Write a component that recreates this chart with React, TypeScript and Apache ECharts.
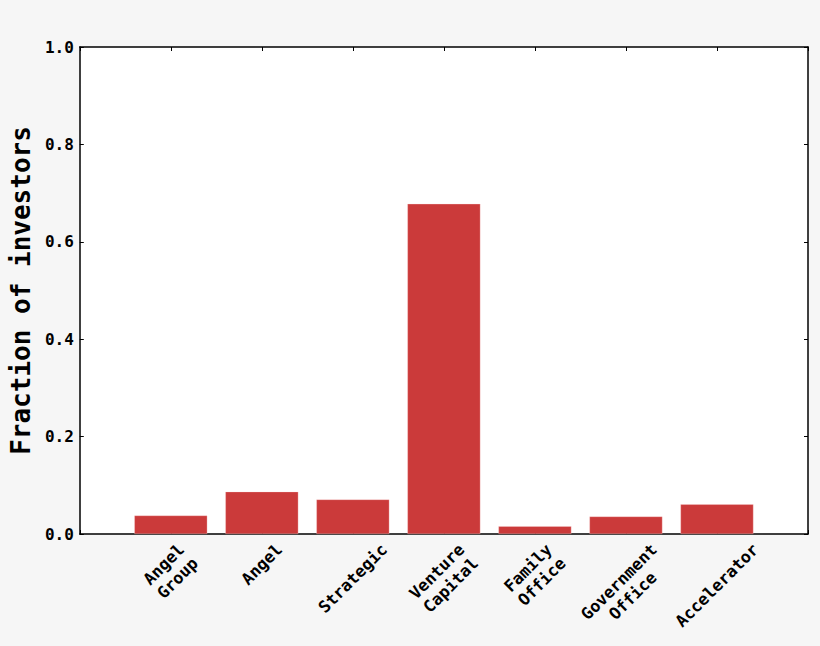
import React, { useEffect, useRef } from "react";
import * as echarts from "echarts";

const categories = [
  "Angel\nGroup",
  "Angel",
  "Strategic",
  "Venture\nCapital",
  "Family\nOffice",
  "Government\nOffice",
  "Accelerator",
];
const values = [0.038, 0.087, 0.071, 0.678, 0.016, 0.036, 0.061];
const yTitle = "Fraction of investors";

const FONT = "DejaVu Sans Mono";
const LABEL_SIZE = 16;
const XLABEL_SIZE = 16.5;
const LINE_H = 19.5;

export default function App() {
  const ref = useRef<HTMLDivElement>(null);

  useEffect(() => {
    if (!ref.current) return;
    const chart = echarts.init(ref.current, null, { renderer: "svg" });
    const axisLine = { show: true, onZero: false, lineStyle: { color: "#000", width: 1.5 } };
    const tick = { show: true, inside: true, length: 4, lineStyle: { color: "#000", width: 1 } };
    chart.setOption({
      animation: false,
      backgroundColor: "#f6f6f6",
      grid: {
        left: 78,
        right: 12,
        top: 47,
        bottom: 112,
        show: true,
        backgroundColor: "#ffffff",
        borderWidth: 0,
      },
      xAxis: [
        {
          type: "value",
          min: -1,
          max: 7,
          interval: 1,
          position: "bottom",
          axisLine,
          axisTick: tick,
          axisLabel: { show: false },
          splitLine: { show: false },
        },
        {
          type: "value",
          min: -1,
          max: 7,
          interval: 1,
          position: "top",
          axisLine,
          axisTick: tick,
          axisLabel: { show: false },
          splitLine: { show: false },
        },
      ],
      yAxis: [
        {
          type: "value",
          min: 0,
          max: 1,
          interval: 0.2,
          position: "left",
          axisLine,
          axisTick: tick,
          splitLine: { show: false },
          axisLabel: {
            formatter: (v: number) => v.toFixed(1),
            fontFamily: FONT,
            fontWeight: "bold",
            fontSize: LABEL_SIZE,
            color: "#000",
            margin: 6,
          },
          name: yTitle,
          nameLocation: "middle",
          nameRotate: 90,
          nameGap: 43,
          nameTextStyle: {
            fontFamily: FONT,
            fontWeight: "bold",
            fontSize: 26,
            color: "#000",
          },
        },
        {
          type: "value",
          min: 0,
          max: 1,
          interval: 0.2,
          position: "right",
          axisLine,
          axisTick: tick,
          axisLabel: { show: false },
          splitLine: { show: false },
        },
      ],
      series: [
        {
          type: "bar",
          xAxisIndex: 0,
          yAxisIndex: 0,
          barWidth: 73,
          data: values.map((v, i) => [i, v]),
          itemStyle: { color: "#cb3a3a", borderColor: "rgba(255,220,220,0.6)", borderWidth: 0.5 },
        },
      ],
    });

    const axisY = chart.convertToPixel({ yAxisIndex: 0 }, 0) as number;
    const charW = 0.602 * XLABEL_SIZE;
    const graphics = categories.map((label, i) => {
      const lines = label.split("\n");
      const w = Math.max(...lines.map((l) => l.length)) * charW;
      const h = lines.length * LINE_H;
      const half = ((w + h) * Math.SQRT1_2) / 2;
      const x = chart.convertToPixel({ xAxisIndex: 0 }, i) as number;
      return {
        type: "text",
        x,
        y: axisY + 6 + half,
        rotation: Math.PI / 4,
        style: {
          text: label,
          fontFamily: FONT,
          fontWeight: "bold",
          fontSize: XLABEL_SIZE,
          lineHeight: LINE_H,
          fill: "#000",
          align: "center",
          verticalAlign: "middle",
        },
      };
    });
    chart.setOption({ graphic: graphics });

    return () => chart.dispose();
  }, []);

  return (
    <div
      ref={ref}
      style={{ position: "absolute", left: 0, top: 0, width: 820, height: 646 }}
    />
  );
}
